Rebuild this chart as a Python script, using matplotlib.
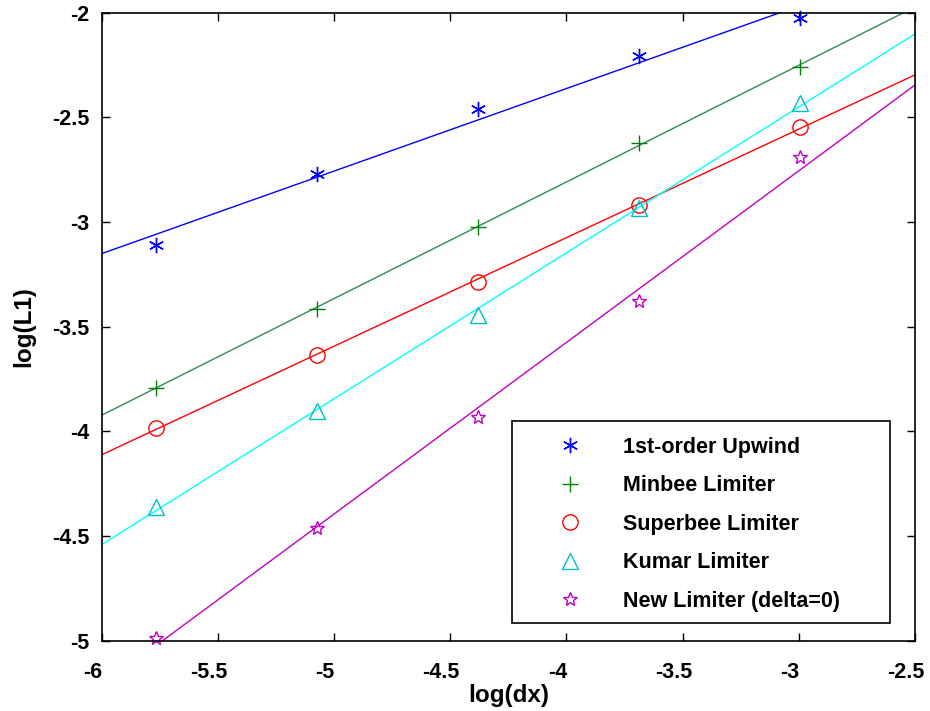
import matplotlib
matplotlib.use("Agg")
import matplotlib.pyplot as plt
import matplotlib.transforms as mtransforms
from matplotlib.patches import Rectangle
import numpy as np

# ── data ──────────────────────────────────────────────────────────────────────
log_dx = np.array([-5.768, -5.075, -4.382, -3.689, -2.996])

upwind   = np.array([-3.108, -2.769, -2.459, -2.205, -2.024])
minbee   = np.array([-3.792, -3.414, -3.022, -2.621, -2.258])
superbee = np.array([-3.983, -3.634, -3.285, -2.917, -2.545])
kumar    = np.array([-4.360, -3.902, -3.443, -2.932, -2.430])
newlim   = np.array([-4.986, -4.461, -3.930, -3.376, -2.688])

labels = ["1st-order Upwind", "Minbee Limiter", "Superbee Limiter",
          "Kumar Limiter", "New Limiter (delta=0)"]

# (series, marker, marker colour, line colour, marker size)
series = [
    (upwind,   (6, 2, 0), "#0000ff", "#0000ff", 11),
    (minbee,   "+",       "#008000", "#2e8b57", 11),
    (superbee, "o",       "#ff0000", "#ff0000", 11),
    (kumar,    "^",       "#00bfbf", "#00ffff", 12),
    (newlim,   "*",       "#bf00bf", "#bf00bf", 10),
]

plt.rcParams["font.family"] = ["Liberation Sans", "DejaVu Sans"]
plt.rcParams["font.weight"] = "bold"

fig = plt.figure(figsize=(9.3, 7.11), dpi=100)
ax = fig.add_axes([0.1094, 0.0989, 0.8745, 0.8833])

xfit = np.array([-6.0, -2.5])
handles = []
for (y, mk, mc, lc, ms), lab in zip(series, labels):
    p = np.polyfit(log_dx, y, 1)
    ax.plot(xfit, np.polyval(p, xfit), color=lc, lw=1.0)
    h, = ax.plot(log_dx, y, ls="none", marker=mk, ms=ms, mfc="none",
                 mec=mc, mew=1.0, clip_on=False, label=lab)
    handles.append(h)

ax.set_xlim(-6, -2.5)
ax.set_ylim(-5, -2)
ax.set_xticks(np.arange(-6, -2.49, 0.5))
ax.set_yticks(np.arange(-5, -1.99, 0.5))
fmt = matplotlib.ticker.FuncFormatter(lambda v, _: f"{v:g}")
ax.xaxis.set_major_formatter(fmt)
ax.yaxis.set_major_formatter(fmt)
ax.tick_params(direction="in", top=True, right=True, length=6, width=1,
               labelsize=15.5)
ax.tick_params(axis="x", pad=15)
ax.tick_params(axis="y", pad=9)
# x tick labels sit a little left of their ticks in the reference
shift = mtransforms.ScaledTranslation(-9 / 100, 0, fig.dpi_scale_trans)
for lbl in ax.get_xticklabels():
    lbl.set_transform(lbl.get_transform() + shift)
for s in ax.spines.values():
    s.set_linewidth(1.2)

ax.set_xlabel("log(dx)", fontsize=17.5, fontweight="bold", labelpad=1)
ax.set_ylabel("log(L1)", fontsize=17.5, fontweight="bold", labelpad=12)

# legend box (frame drawn separately to get MATLAB-like wide padding)
ax.add_patch(Rectangle((0.5045, 0.0287), 0.4648, 0.3216, transform=ax.transAxes,
                       facecolor="white", edgecolor="black", lw=1.2, zorder=4))
leg = ax.legend(handles=handles, loc="upper left",
                bbox_to_anchor=(0.5493, 0.3243), fontsize=15.5,
                frameon=False, borderpad=0, labelspacing=0.81,
                handlelength=2.0, handletextpad=1.47, borderaxespad=0)
leg.set_zorder(5)

fig.savefig("out.png", dpi=100)
